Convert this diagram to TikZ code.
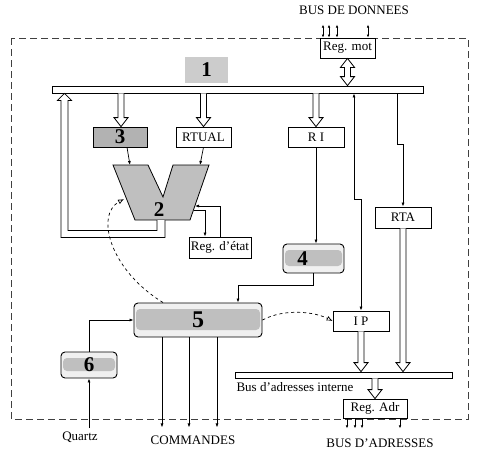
\documentclass[tikz,border=0pt]{standalone}
\usepackage{fontspec}
\setmainfont{Liberation Serif}
\usepackage{tikz}
\usetikzlibrary{arrows.meta,calc,positioning}

% hollow bus arrows
\newcommand{\fatdown}[2]{%
  \draw[fill=white,line width=0.8pt] let \p1=#1, \p2=#2 in
    (\x1-3pt,\y1) -- (\x1-3pt,\y2+9pt) -- (\x1-7pt,\y2+9pt) -- (\x1,\y2)
    -- (\x1+7pt,\y2+9pt) -- (\x1+3pt,\y2+9pt) -- (\x1+3pt,\y1);}
\newcommand{\fatboth}[2]{%
  \draw[fill=white,line width=0.8pt] let \p1=#1, \p2=#2 in
    (\x1,\y1) -- (\x1-7pt,\y1-9pt) -- (\x1-3pt,\y1-9pt) -- (\x1-3pt,\y2+9pt)
    -- (\x1-7pt,\y2+9pt) -- (\x1,\y2) -- (\x1+7pt,\y2+9pt) -- (\x1+3pt,\y2+9pt)
    -- (\x1+3pt,\y1-9pt) -- (\x1+7pt,\y1-9pt) -- cycle;}

\begin{document}
\begin{tikzpicture}[x=1pt,y=-1pt,font=\fontsize{13}{15}\selectfont,
  reg/.style={draw,fill=white,line width=0.8pt,inner sep=0pt,minimum height=20pt},
  num/.style={font=\fontsize{21}{23}\selectfont\bfseries},
  ctrl/.style={draw,line width=0.9pt,rounded corners=4pt,fill=gray!12,inner sep=0pt,
    path picture={\fill[gray!50] ($(path picture bounding box.north west)+(2pt,-6pt)$)
      rectangle ($(path picture bounding box.south east)+(-2pt,7pt)$);}},
  bar/.style={draw,fill=white,line width=0.8pt,inner sep=0pt},
  link/.style={-{Latex[length=4pt,width=3pt]},line width=0.7pt},
  tiny/.style={{Latex[length=3pt,width=2.5pt]}-{Latex[length=3pt,width=2.5pt]},line width=0.9pt},
  ctl/.style={dashed,line width=0.7pt,-{Latex[open,length=6pt,width=5pt]}}]
\useasboundingbox (0,0) rectangle (477,453);

% frame
\draw[dash pattern=on 7pt off 4pt,line width=1pt,black!75] (11,38) rectangle (468,419);

% registers and buses
\node (bdd) at (354,10) {BUS DE DONNEES};
\node[reg,minimum width=55pt] (regmot) at (347.5,48) {Reg. mot};
\node[fill=gray!40,minimum width=43pt,minimum height=26pt,num] (box1) at (206.5,70) {1};
\node[bar,minimum width=371pt,minimum height=7pt] (bus1) at (237.5,89.5) {};
\node[reg,fill=gray!60,minimum width=54pt,num] (box3) at (120,137) {3};
\node[reg,minimum width=55pt] (rtual) at (203.5,137) {RTUAL};
\node[reg,minimum width=56pt] (ri) at (316,137) {R I};
\node[reg,minimum width=56pt,minimum height=21pt] (rta) at (403,217.5) {RTA};
\node[reg,minimum width=62pt,minimum height=21pt] (regetat) at (220,247.5) {Reg. d'état};
\node[ctrl,minimum width=61pt,minimum height=29pt] (box4) at (313.5,258.5) {};
\node[num] (lab4) at ($(box4)+(-11,0)$) {4};
\node[ctrl,minimum width=128pt,minimum height=34pt,font=\fontsize{24}{26}\selectfont\bfseries] (box5) at (198,320) {5};
\node[ctrl,minimum width=56pt,minimum height=26pt,num] (box6) at (89,365) {6};
\node[reg,minimum width=56pt] (ip) at (361,321) {I P};
\node[bar,minimum width=217pt,minimum height=6pt] (bus2) at (343.5,375) {};
\node[anchor=west] (bai) at (233,387) {Bus d'adresses interne};
\node[reg,minimum width=64pt,minimum height=19pt] (regadr) at (375,408.5) {Reg. Adr};
\node (bad) at (380,443) {BUS D'ADRESSES};
\node (cmd) at (193,440) {COMMANDES};
\node (quartz) at (80,437) {Quartz};

% ALU
\draw[fill=gray!50,line width=0.8pt] (113,165) -- (148,165) -- (163,197) -- (173,165)
  -- (209,165) -- (190,220) -- (135,220) -- cycle;
\coordinate (alu-a) at (130,165);
\coordinate (alu-c) at (200,165);
\coordinate (alu-b) at (161,220);
\coordinate (alu-l) at (124,199);
\coordinate (alu-r1) at (193.5,210);
\coordinate (alu-r2) at (195,206);
\node[num] (alu) at (159,210) {2};

% hollow arrows
\fatboth{(regmot.south)}{(bus1.north -| regmot.south)}
\fatdown{(bus1.south -| 121,0)}{(box3.north -| 121,0)}
\fatdown{(bus1.south -| rtual.north)}{(rtual.north)}
\fatdown{(bus1.south -| ri.north)}{(ri.north)}
\fatdown{(ip.south)}{(bus2.north -| ip.south)}
\fatdown{(rta.south)}{(bus2.north -| rta.south)}
\fatdown{(bus2.south -| regadr.north)}{(regadr.north)}
\coordinate (ret) at (64.5,234);
\draw[fill=white,line width=0.8pt] let \p1=(alu-b), \p2=(ret), \p3=(bus1.south) in
  (\x1-4pt,\y1) -- (\x1-4pt,\y2+3.5pt) -- (\x2+3.5pt,\y2+3.5pt) -- (\x2+3.5pt,\y3-7pt)
  -- (\x2+7pt,\y3-7pt) -- (\x2,\y3) -- (\x2-7pt,\y3-7pt) -- (\x2-3.5pt,\y3-7pt)
  -- (\x2-3.5pt,\y2-3.5pt) -- (\x1+4pt,\y2-3.5pt) -- (\x1+4pt,\y1);

% thin links
\draw[link] (box3.south -| 127,0) -- (alu-a);
\draw[link] (rtual.south) -- (alu-c);
\draw[link] (alu-r1) -| ([xshift=-15pt]regetat.north);
\draw[link] (regetat.north) |- (alu-r2);
\draw[link] (ri.south) -- (ri.south |- box4.north);
\draw[link] (box4.south) -- ++(0,12) -| ([xshift=40pt]box5.north);
\draw[link] (box6.north) |- (box5.west);
\draw[link] (box6.south |- quartz.north) -- (box6.south);
\foreach \dx in {-36,-9,19}
  \draw[link] ([xshift=\dx pt]box5.south) -- ++(0,90);
\coordinate (ipbend) at (354,199);
\draw[link,{Latex[length=4pt,width=3pt]}-{Latex[length=4pt,width=3pt]}] (ipbend |- bus1.south) -- (ipbend) -| (ip.north);
\coordinate (rtabend) at (397,144);
\draw[link] (rtabend |- bus1.south) -- (rtabend) -| (rta.north);
\foreach \dx in {-24.5,-18.5,-10.5,20.5}
  \draw[tiny] ([xshift=\dx pt]regmot.north) -- ++(0,-13);
\foreach \dx in {-28,-20,-13,25}
  \draw[tiny,-{Latex[length=3pt,width=2.5pt]}] ([xshift=\dx pt]regadr.south) -- ++(0,10);

% control lines
\draw[ctl] ([xshift=-35pt]box5.north) .. controls (110,270) and (95,215) .. (alu-l);
\draw[ctl] (box5.east) .. controls (285,308) and (315,312) .. (ip.west);
\end{tikzpicture}
\end{document}
